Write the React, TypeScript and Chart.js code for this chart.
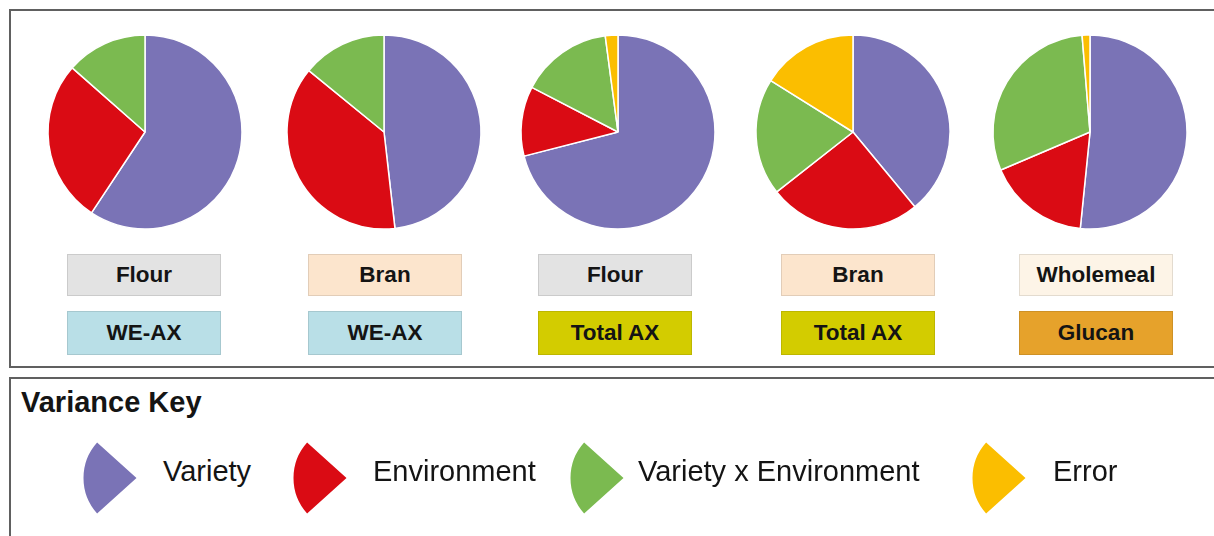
import React, { useEffect, useRef } from "react";
import { Chart, registerables } from "chart.js";

Chart.register(...registerables);

// ---- data ----
const components = ["Variety", "Environment", "Variety x Environment", "Error"];
const componentColors = ["#7A73B6", "#DA0B14", "#7BBA50", "#FBBE00"];

const tissues = ["Flour", "Bran", "Flour", "Bran", "Wholemeal"];
const fractions = ["WE-AX", "WE-AX", "Total AX", "Total AX", "Glucan"];

const varietyShare = [59.3, 48.2, 71.0, 39.0, 51.6];
const environmentShare = [27.2, 37.7, 11.6, 25.4, 17.0];
const interactionShare = [13.5, 14.1, 15.3, 19.5, 30.1];
const errorShare = [0, 0, 2.1, 16.1, 1.3];

const tissueColors: Record<string, string> = {
  Flour: "#E3E3E3",
  Bran: "#FCE5CD",
  Wholemeal: "#FDF4E7",
};
const fractionColors: Record<string, string> = {
  "WE-AX": "#B9DFE7",
  "Total AX": "#D3CC00",
  Glucan: "#E6A22B",
};

// ---- layout ----
const pieCentersX = [145, 384, 618, 853, 1090];
const pieCenterY = 132;
const pieRadius = 97;
const boxLefts = [67, 308, 538, 781, 1019];
const keyMarkerCenters = [110, 320, 597, 999];
const keyLabelLefts = [163, 373, 638, 1053];

const FONT = '"Liberation Sans", Arial, Helvetica, sans-serif';

function Pie({ idx }: { idx: number }) {
  const ref = useRef<HTMLCanvasElement | null>(null);
  useEffect(() => {
    if (!ref.current) return;
    const chart = new Chart(ref.current, {
      type: "pie",
      data: {
        labels: components,
        datasets: [
          {
            data: [
              varietyShare[idx],
              environmentShare[idx],
              interactionShare[idx],
              errorShare[idx],
            ],
            backgroundColor: componentColors,
            borderColor: "#ffffff",
            borderWidth: 1.5,
            hoverOffset: 0,
          },
        ],
      },
      options: {
        responsive: false,
        animation: false,
        devicePixelRatio: 1,
        events: [],
        radius: pieRadius,
        layout: { padding: 0 },
        plugins: { legend: { display: false }, tooltip: { enabled: false } },
      } as any,
    });
    return () => chart.destroy();
  }, [idx]);
  const size = 2 * pieRadius + 6;
  return (
    <canvas
      ref={ref}
      width={size}
      height={size}
      style={{
        position: "absolute",
        left: pieCentersX[idx] - size / 2,
        top: pieCenterY - size / 2,
        width: size,
        height: size,
      }}
    />
  );
}

function KeyMarker({ idx }: { idx: number }) {
  const ref = useRef<HTMLCanvasElement | null>(null);
  useEffect(() => {
    if (!ref.current) return;
    const chart = new Chart(ref.current, {
      type: "pie",
      data: {
        labels: [components[idx]],
        datasets: [
          {
            data: [1],
            backgroundColor: [componentColors[idx]],
            borderWidth: 0,
            hoverOffset: 0,
          },
        ],
      },
      options: {
        responsive: false,
        animation: false,
        devicePixelRatio: 1,
        events: [],
        rotation: 228,
        circumference: 84,
        radius: 53,
        layout: { padding: 0 },
        plugins: { legend: { display: false }, tooltip: { enabled: false } },
      } as any,
    });
    return () => chart.destroy();
  }, [idx]);
  const w = 60;
  const h = 76;
  return (
    <canvas
      ref={ref}
      width={w}
      height={h}
      style={{
        position: "absolute",
        left: keyMarkerCenters[idx] - w / 2,
        top: 478 - h / 2,
        width: w,
        height: h,
      }}
    />
  );
}

function LabelBox({
  left,
  top,
  height,
  text,
  color,
}: {
  left: number;
  top: number;
  height: number;
  text: string;
  color: string;
}) {
  return (
    <div
      style={{
        position: "absolute",
        left,
        top,
        width: 154,
        height,
        boxSizing: "border-box",
        background: color,
        border: "1px solid rgba(0,0,0,0.10)",
        display: "flex",
        alignItems: "center",
        justifyContent: "center",
        font: `bold 22.5px ${FONT}`,
        color: "#141414",
      }}
    >
      {text}
    </div>
  );
}

export default function App() {
  return (
    <div
      style={{
        position: "absolute",
        left: 0,
        top: 0,
        width: 1214,
        height: 536,
        overflow: "hidden",
        background: "#ffffff",
        fontFamily: FONT,
      }}
    >
      {/* top panel frame */}
      <div
        style={{
          position: "absolute",
          left: 9,
          top: 9,
          width: 1240,
          height: 359,
          boxSizing: "border-box",
          border: "2px solid #606060",
        }}
      />
      {/* lower panel frame */}
      <div
        style={{
          position: "absolute",
          left: 9,
          top: 377,
          width: 1240,
          height: 200,
          boxSizing: "border-box",
          border: "2px solid #606060",
        }}
      />

      {tissues.map((_, i) => (
        <Pie key={"p" + i} idx={i} />
      ))}

      {tissues.map((t, i) => (
        <LabelBox
          key={"t" + i}
          left={boxLefts[i]}
          top={254}
          height={42}
          text={t}
          color={tissueColors[t]}
        />
      ))}
      {fractions.map((f, i) => (
        <LabelBox
          key={"f" + i}
          left={boxLefts[i]}
          top={311}
          height={44}
          text={f}
          color={fractionColors[f]}
        />
      ))}

      <div
        style={{
          position: "absolute",
          left: 21,
          top: 386,
          font: `bold 29px ${FONT}`,
          color: "#141414",
          whiteSpace: "nowrap",
        }}
      >
        Variance Key
      </div>

      {components.map((_, i) => (
        <KeyMarker key={"m" + i} idx={i} />
      ))}
      {components.map((c, i) => (
        <div
          key={"l" + i}
          style={{
            position: "absolute",
            left: keyLabelLefts[i],
            top: 455,
            font: `29px ${FONT}`,
            color: "#141414",
            whiteSpace: "nowrap",
          }}
        >
          {c}
        </div>
      ))}
    </div>
  );
}
